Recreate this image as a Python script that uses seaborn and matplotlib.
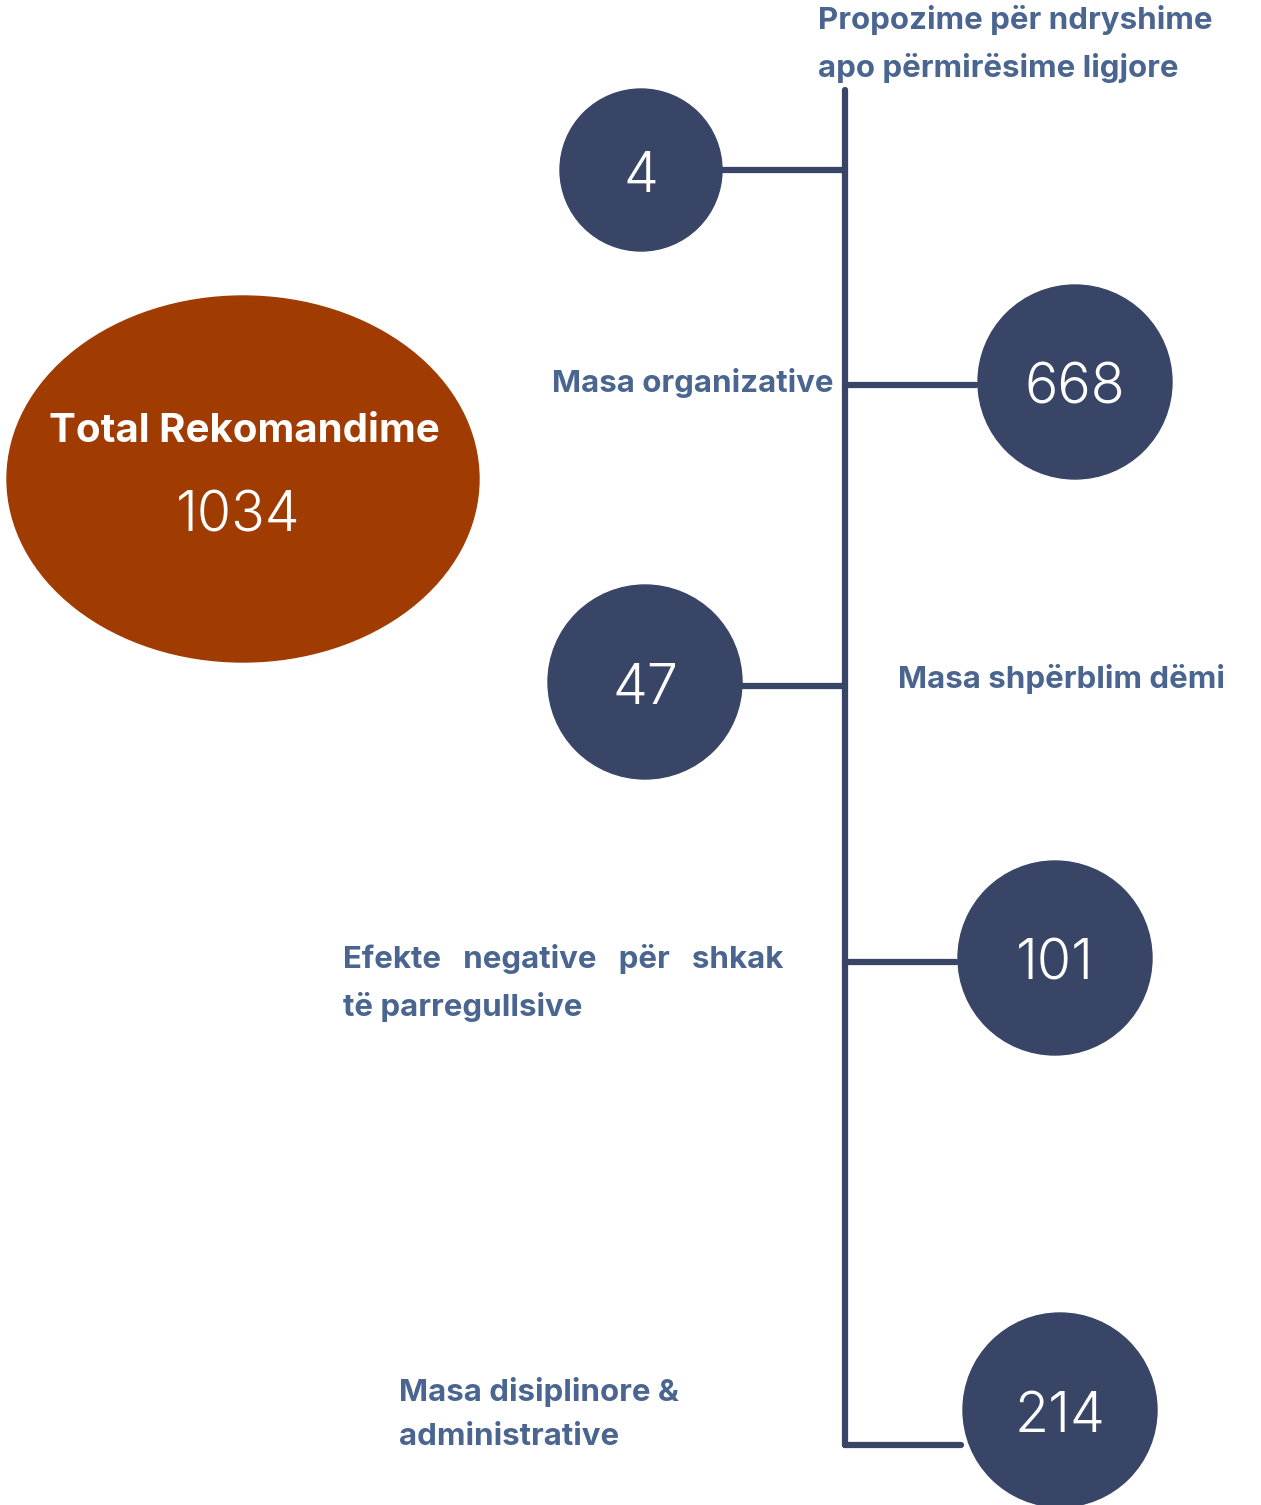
import matplotlib
import matplotlib.pyplot as plt
import seaborn as sns
from matplotlib.patches import Circle, Ellipse

matplotlib.use("agg")

# data
total_label = "Total Rekomandime"
total_value = 1034
categories = [
    "Propozime për ndryshime\napo përmirësime ligjore",
    "Masa organizative",
    "Masa shpërblim dëmi",
    "Efekte   negative   për   shkak\ntë parregullsive",
    "Masa disiplinore &\nadministrative",
]
values = [4, 668, 47, 101, 214]

# layout (pixel space, y downwards)
W, H = 1261, 1505
spine_x = 845
spine_top, spine_bottom = 90, 1445
circle_x = [641, 1075, 645, 1055, 1060]
circle_y = [170, 382, 682, 958, 1410]
circle_r = [81, 97, 97, 97, 97]
link_y = [170, 385, 686, 962, 1445]
label_xy = [(818, 44), (833, 383), (898, 679), (343, 983), (399, 1414)]
label_ha = ["left", "right", "left", "left", "left"]

NAVY = "#394567"
LABEL = "#4a6590"
RUST = "#a03c02"

sns.set_theme(style="white")
plt.rcParams["font.family"] = ["Inter", "DejaVu Sans"]

fig = plt.figure(figsize=(W / 100, H / 100), dpi=100)
ax = fig.add_axes([0, 0, 1, 1])
ax.set_xlim(0, W)
ax.set_ylim(H, 0)
ax.axis("off")

# spine
ax.plot([spine_x, spine_x], [spine_top, spine_bottom], color=NAVY, lw=4.5,
        solid_capstyle="round", zorder=1)

for val, cx, cy, r, ly in zip(values, circle_x, circle_y, circle_r, link_y):
    if cx < spine_x:
        xs = [cx + r * 0.98, spine_x]
    else:
        xs = [spine_x, cx - r * 1.02]
    ax.plot(xs, [ly, ly], color=NAVY, lw=4.5, solid_capstyle="round", zorder=1)
    ax.add_patch(Circle((cx, cy), r, color=NAVY, zorder=2))
    ax.text(cx, cy + 7, str(val), color="white", fontsize=40, fontweight=300,
            ha="center", va="center", zorder=3)

for text, (tx, ty), ha in zip(categories, label_xy, label_ha):
    ax.text(tx, ty, text, color=LABEL, fontsize=22.5, fontweight="bold",
            ha=ha, va="center", linespacing=1.75)

# total
ax.add_patch(Ellipse((243, 479), 472, 366, color=RUST, zorder=2))
ax.text(244, 431, total_label, color="white", fontsize=29, fontweight="bold",
        ha="center", va="center", zorder=3)
ax.text(238, 517, str(total_value), color="white", fontsize=40, fontweight=300,
        ha="center", va="center", zorder=3)

fig.savefig("out.png", dpi=100, facecolor="white")
